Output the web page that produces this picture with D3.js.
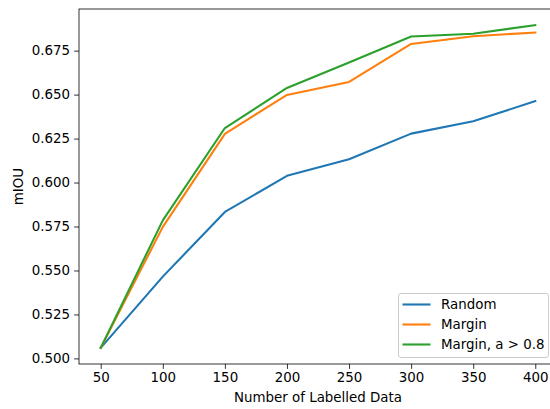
<!DOCTYPE html>
<html>
<head>
<meta charset="utf-8">
<script src="https://cdn.jsdelivr.net/npm/d3@7"></script>
<style>
  html, body { margin: 0; padding: 0; background: #fff; }
  svg { display: block; font-family: "DejaVu Sans", sans-serif; }
</style>
</head>
<body>
<svg id="chart" width="550" height="409"></svg>
<script>
// Labelled-set sizes and mIOU for each query strategy
const sizes = [50, 100, 150, 200, 250, 300, 350, 400];
const randomMiou = [0.506, 0.5465, 0.5833, 0.6038, 0.6132, 0.6278, 0.6348, 0.6463];
const marginMiou = [0.506, 0.5748, 0.6277, 0.6498, 0.6572, 0.6788, 0.6832, 0.6853];
const marginA08Miou = [0.506, 0.5785, 0.6310, 0.6538, 0.6682, 0.6830, 0.6846, 0.6895];
const seriesNames = ["Random", "Margin", "Margin, a > 0.8"];
const seriesColors = ["#1f77b4", "#ff7f0e", "#2ca02c"];
const xTicks = [50, 100, 150, 200, 250, 300, 350, 400];
const yTicks = [0.500, 0.525, 0.550, 0.575, 0.600, 0.625, 0.650, 0.675];

const series = [randomMiou, marginMiou, marginA08Miou];

const svg = d3.select("#chart");
const plotLeft = 79, plotTop = 9, plotRight = 557, plotBottom = 364;

// 5% padding around the data range on both axes
const xMin = d3.min(sizes), xMax = d3.max(sizes);
const xPad = (xMax - xMin) * 0.05;
const allY = series.flat();
const yMin = d3.min(allY), yMax = d3.max(allY);
const yPad = (yMax - yMin) * 0.05;

const x = d3.scaleLinear().domain([xMin - xPad, xMax + xPad]).range([plotLeft, plotRight]);
const y = d3.scaleLinear().domain([yMin - yPad, yMax + yPad]).range([plotBottom, plotTop]);

const fontSize = 13.4;

// Axes
const xAxis = d3.axisBottom(x).tickValues(xTicks).tickFormat(d3.format("d")).tickSize(4.9).tickPadding(4);
const yAxis = d3.axisLeft(y).tickValues(yTicks).tickFormat(d3.format(".3f")).tickSize(4.9).tickPadding(4);

const gx = svg.append("g").attr("transform", `translate(0,${plotBottom})`).call(xAxis);
const gy = svg.append("g").attr("transform", `translate(${plotLeft},0)`).call(yAxis);
[gx, gy].forEach(g => {
  g.select(".domain").remove();
  g.selectAll(".tick line").attr("stroke", "#000").attr("stroke-width", 0.8);
  g.selectAll(".tick text").attr("fill", "#000").style("font-size", fontSize + "px")
    .style("font-family", "DejaVu Sans, sans-serif");
});

// Frame
svg.append("rect")
  .attr("x", plotLeft).attr("y", plotTop)
  .attr("width", plotRight - plotLeft).attr("height", plotBottom - plotTop)
  .attr("fill", "none").attr("stroke", "#000").attr("stroke-width", 0.8);

// Lines
const line = d3.line().x((d, i) => x(sizes[i])).y(d => y(d));
const plot = svg.append("g");
series.forEach((vals, k) => {
  plot.append("path")
    .datum(vals)
    .attr("d", line)
    .attr("fill", "none")
    .attr("stroke", seriesColors[k])
    .attr("stroke-width", 2.1)
    .attr("stroke-linejoin", "round")
    .attr("stroke-linecap", "square");
});

// Axis titles
svg.append("text")
  .attr("x", (plotLeft + plotRight) / 2).attr("y", 402)
  .attr("text-anchor", "middle")
  .style("font-size", fontSize + "px")
  .text("Number of Labelled Data");

svg.append("text")
  .attr("transform", `translate(23,${(plotTop + plotBottom) / 2}) rotate(-90)`)
  .attr("text-anchor", "middle")
  .style("font-size", fontSize + "px")
  .text("mIOU");

// Legend
const lg = svg.append("g").attr("transform", "translate(398.5,293.5)");
lg.append("rect")
  .attr("width", 150).attr("height", 64).attr("rx", 2.5)
  .attr("fill", "#fff").attr("fill-opacity", 0.8)
  .attr("stroke", "#ccc").attr("stroke-width", 1);
seriesNames.forEach((name, k) => {
  const cy = 11 + k * 20;
  lg.append("line")
    .attr("x1", 4).attr("x2", 32).attr("y1", cy).attr("y2", cy)
    .attr("stroke", seriesColors[k]).attr("stroke-width", 2.1);
  lg.append("text")
    .attr("x", 42.5).attr("y", cy).attr("dy", "0.35em")
    .style("font-size", fontSize + "px")
    .text(name);
});
</script>
</body>
</html>
